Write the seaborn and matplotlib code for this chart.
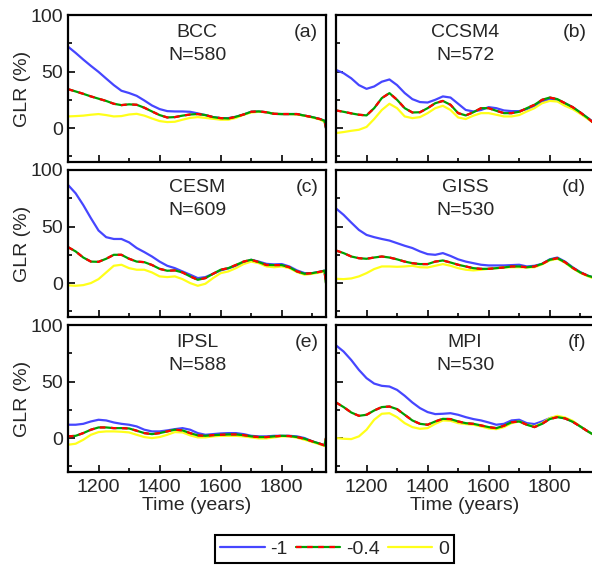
import numpy as np
import pandas as pd
import matplotlib
matplotlib.use("Agg")
import matplotlib.pyplot as plt
import seaborn as sns
from matplotlib.lines import Line2D
from matplotlib.ticker import MultipleLocator

# time axis (years)
years = list(range(1100, 1926, 25)) + [1940, 1945]

# panel titles
models = ["BCC", "CCSM4", "CESM", "GISS", "IPSL", "MPI"]
sizes = [580, 572, 609, 530, 588, 530]
letters = ["(a)", "(b)", "(c)", "(d)", "(e)", "(f)"]
series_labels = ["-1", "-0.4", "0"]

# GLR (%) per model, for the three exponents -1, -0.4, 0
bcc_m1 = [72, 66.5, 60.6, 55, 49.7, 43.8, 38, 33, 31, 28.5, 24.4, 20, 16.8,
          15, 14.7, 14.7, 14.4, 13, 11.5, 9.7, 8.8, 8.8, 10, 12, 14.4,
          14.7, 14, 12.6, 12.4, 12.4, 12.4, 11, 9.7, 8, 6.5, 0]
bcc_m04 = [34.4, 32.4, 30.3, 28, 26, 24, 21.5, 20.3, 21, 20.6, 18, 14.7, 11.5,
           9.4, 9.7, 11, 12, 12.4, 11.5, 9.7, 8.8, 8.5, 10, 12, 14.4,
           14.7, 14, 12.6, 12.4, 12.4, 12.4, 11, 9.7, 8, 6.5, 0]
bcc_0 = [10.3, 10.6, 11, 11.8, 12.4, 11.5, 10.3, 10.6, 12, 12.6, 11, 8.5, 6.2,
         5.3, 5.6, 7.4, 9, 9.7, 9, 8.2, 7.4, 7.4, 9, 11.8, 13.8,
         14.4, 14, 12.6, 12.4, 12.4, 12, 10.9, 9.4, 7.6, 5.5, 3]

ccsm_m1 = [51.5, 48.5, 44, 38, 34.7, 36.8, 41, 43, 38, 31, 25.6, 23, 22.6,
           25, 28, 27, 21.5, 16, 14.7, 16, 18.5, 17.6, 15.6, 15, 15,
           16.8, 19.7, 23.5, 25.6, 25, 22, 18.5, 13.8, 8.8, 5.9, 5]
ccsm_m04 = [15.6, 14.4, 13, 11.8, 11.2, 17.6, 26.5, 30.9, 25, 17.6, 13.8, 14, 17.6,
            22, 24, 20.6, 13.2, 11.2, 14, 17.6, 17.6, 15.3, 13.2, 13.2, 14.4,
            17.6, 20.6, 25, 27, 25.6, 22, 18.5, 13.8, 8.8, 5.3, 4.4]
ccsm_0 = [-4.4, -3.5, -2.4, -1.5, 1, 8, 16, 21.5, 17.6, 10.3, 8.8, 9.7, 13.2,
          17.6, 19.7, 16, 9.4, 8, 11, 13.2, 13.2, 11.8, 10.3, 10.3, 11.5,
          14.7, 17.6, 22, 24, 23.5, 19.7, 16.8, 12.6, 8, 5.3, 4.4]

cesm_m1 = [86.8, 79.4, 69, 57.4, 46.5, 40.6, 39, 39, 36, 31, 27.4, 23.5, 19,
           15.3, 13.2, 10.3, 7.4, 4.4, 5.3, 8.2, 11.2, 13, 15.3, 18.2, 20.6,
           19, 17, 16.5, 16.8, 14.7, 11.2, 8.8, 8.8, 10, 11, 0]
cesm_m04 = [31.8, 28, 22.6, 19, 18.8, 21.5, 25, 25, 21.5, 19, 18.5, 16, 12.6,
            10.9, 11.2, 9.4, 5.9, 2.9, 4.4, 8.2, 11.8, 13.2, 16, 19, 20.6,
            18.5, 16, 15.9, 15.9, 14, 10.3, 8.2, 8.8, 10, 11, 0]
cesm_0 = [-2, -2.4, -1.8, 0, 3.5, 9.4, 15.3, 16.2, 13.2, 11.8, 11.8, 9.4, 5.9,
          5.3, 5.9, 3.5, 0, -2.4, -0.6, 4.4, 8.8, 10.3, 13.2, 16.8, 19,
          17.6, 14.7, 14, 14.7, 13.2, 9.7, 7.4, 8.2, 9.4, 10.3, 0]

giss_m1 = [66, 60.3, 53.5, 47, 42.6, 40.6, 39, 37.6, 35.3, 33, 31, 28, 25.6,
           25, 26.5, 24, 21, 19, 17.6, 16.2, 15.6, 15.6, 15.6, 15.9, 16.2,
           14.7, 15.3, 17, 21, 22.6, 19, 14, 9.7, 6.5, 5.3, 4.4]
giss_m04 = [28.8, 26.5, 23.5, 22, 21.5, 22.6, 23.5, 22.6, 21, 19, 17.6, 16.8, 16.8,
            19, 20, 18.2, 16.2, 14.7, 13.2, 12.6, 12.6, 13.2, 13.8, 14.7, 14.7,
            14, 14.7, 17, 20.6, 22, 18.5, 13.5, 9.4, 6.5, 5.3, 4.4]
giss_0 = [3.8, 3.5, 4.1, 5.9, 8.8, 12.4, 14.7, 14.7, 14.4, 14.7, 15.3, 14, 13.8,
          15.3, 16.8, 15.3, 13.2, 11.8, 11.2, 11.8, 12.6, 13.2, 13.8, 14, 14,
          13.8, 14, 16.5, 20, 21.5, 18, 13, 9, 6, 4.5, 3.8]

ipsl_m1 = [11.8, 11.8, 12.6, 14.7, 16.2, 15.6, 13.8, 12.6, 11.8, 10.3, 7.4, 5.9, 5.9,
           6.8, 7.9, 8.8, 7.4, 4.4, 2.9, 3.5, 4.1, 4.4, 4.4, 3.5, 2,
           1.5, 1.5, 2, 2, 2, 1.5, 0, -2.9, -5, -6.5, 0]
ipsl_m04 = [1.5, 2, 4.4, 7.4, 9.4, 9.4, 8.8, 8.8, 8.5, 6.5, 4.4, 3.5, 4.4,
            5.9, 7.4, 6.8, 4.4, 2.4, 2, 2.6, 2.9, 3.2, 3.2, 2.6, 1.5,
            0.9, 0.9, 1.5, 2, 1.8, 0.9, -0.6, -2.9, -5, -6.5, 0]
ipsl_0 = [-5.9, -5, -1.5, 2.9, 5.3, 5.9, 5.9, 5.6, 5, 2.9, 0.9, 0, 0.9,
          2.9, 5.3, 5, 2.4, 0.6, 0.6, 1.5, 2, 2, 2, 1.5, 0.6,
          -0.3, -0.3, 0.6, 1.5, 1.5, 0.3, -1.5, -3.5, -5.6, -7, 0]

mpi_m1 = [82, 76.5, 69, 60.3, 53, 48.2, 46.2, 45.6, 42.6, 37.4, 31.5, 26.5, 23,
          21.2, 21.5, 22, 20.6, 18.5, 16.8, 15.6, 13.8, 11.8, 12.6, 15.6, 16.2,
          13.2, 12.4, 14.7, 17.6, 19, 17.6, 14.7, 10.3, 5.9, 3.5, 2.9]
mpi_m04 = [31.5, 27.4, 22.6, 19.7, 20.6, 24.4, 27.4, 27.9, 25.6, 20.6, 15.6, 12.6, 11.8,
           14.7, 17, 16.8, 14.7, 13.2, 12.6, 11.2, 9.7, 8.8, 10.9, 14, 14.7,
           11.8, 9.7, 12.6, 16.8, 18.5, 17.4, 14.4, 10.3, 5.9, 3.5, 2.9]
mpi_0 = [0, -0.6, -0.9, 1.5, 7.4, 16.2, 21.5, 22, 18.5, 13.2, 9.7, 8.2, 8.8,
         12.6, 15.6, 15.3, 13.2, 12.4, 11.8, 10.3, 8.5, 7.9, 9.7, 13.2, 14.7,
         11.8, 10.3, 13.2, 17.6, 19.7, 18.2, 15.3, 10.3, 5.9, 3.5, 2.9]

panel_data = [
    (bcc_m1, bcc_m04, bcc_0),
    (ccsm_m1, ccsm_m04, ccsm_0),
    (cesm_m1, cesm_m04, cesm_0),
    (giss_m1, giss_m04, giss_0),
    (ipsl_m1, ipsl_m04, ipsl_0),
    (mpi_m1, mpi_m04, mpi_0),
]

sns.set_style("ticks")
plt.rcParams["font.family"] = ["Liberation Sans", "DejaVu Sans"]

BLUE = "#4646ff"
GREEN = "#00a000"
RED = "#ff0000"
YELLOW = "#ffff1a"
LW = 1.6
FS = 14

W, H = 592, 568
fig = plt.figure(figsize=(W / 100, H / 100), dpi=100)

col_left = [68, 336]
row_top = [15, 170, 325]
ax_w, ax_h = 258, 147

for i, (m1, m04, m0) in enumerate(panel_data):
    r, c = divmod(i, 2)
    ax = fig.add_axes([col_left[c] / W, (H - row_top[r] - ax_h) / H, ax_w / W, ax_h / H])
    sns.lineplot(x=years, y=m1, ax=ax, color=BLUE, lw=LW, errorbar=None)
    sns.lineplot(x=years, y=m0, ax=ax, color=YELLOW, lw=LW, errorbar=None)
    sns.lineplot(x=years, y=m04, ax=ax, color=GREEN, lw=LW, errorbar=None)
    sns.lineplot(x=years, y=m04, ax=ax, color=RED, lw=LW, errorbar=None,
                 linestyle=(0, (2.5, 2.5)))

    ax.set_xlim(1100, 1945)
    ax.set_ylim(-30, 100)
    ax.set_xticks([1200, 1400, 1600, 1800])
    ax.set_yticks([0, 50, 100])
    ax.xaxis.set_minor_locator(MultipleLocator(100))
    ax.yaxis.set_minor_locator(MultipleLocator(25))
    ax.tick_params(which="both", direction="in", width=1.4, labelsize=FS)
    ax.tick_params(which="major", length=5)
    ax.tick_params(which="minor", length=3)
    ax.tick_params(axis="y", pad=3.5)
    ax.tick_params(axis="x", pad=5)
    for s in ax.spines.values():
        s.set_linewidth(1.6)
        s.set_color("black")

    if c == 0:
        ax.set_ylabel("GLR (%)", fontsize=FS)
        ax.yaxis.set_label_coords(-0.143, 0.5)
    else:
        ax.set_ylabel("")
        ax.tick_params(axis="y", labelleft=False)
    if r == 2:
        ax.set_xlabel("Time (years)", fontsize=FS, labelpad=1)
    else:
        ax.set_xlabel("")
        ax.tick_params(axis="x", labelbottom=False)

    ax.text(0.5, 0.88, models[i], transform=ax.transAxes, ha="center", va="center", fontsize=FS)
    ax.text(0.5, 0.724, f"N={sizes[i]}", transform=ax.transAxes, ha="center", va="center", fontsize=FS)
    ax.text(0.97, 0.88, letters[i], transform=ax.transAxes, ha="right", va="center", fontsize=FS)

h_blue = Line2D([], [], color=BLUE, lw=LW)
h_mid = (Line2D([], [], color=GREEN, lw=LW),
         Line2D([], [], color=RED, lw=LW, linestyle=(0, (2.5, 2.5))))
h_yel = Line2D([], [], color=YELLOW, lw=LW)
leg = fig.legend([h_blue, h_mid, h_yel], series_labels, loc="center",
                 bbox_to_anchor=(334.5 / W, (H - 549) / H), ncol=3, fontsize=FS,
                 frameon=True, fancybox=False, framealpha=1, edgecolor="black",
                 handlelength=2.3, handletextpad=0.3, columnspacing=0.4,
                 borderpad=0.25, borderaxespad=0)
leg.get_frame().set_linewidth(1.5)

fig.savefig("out.png", dpi=100)
